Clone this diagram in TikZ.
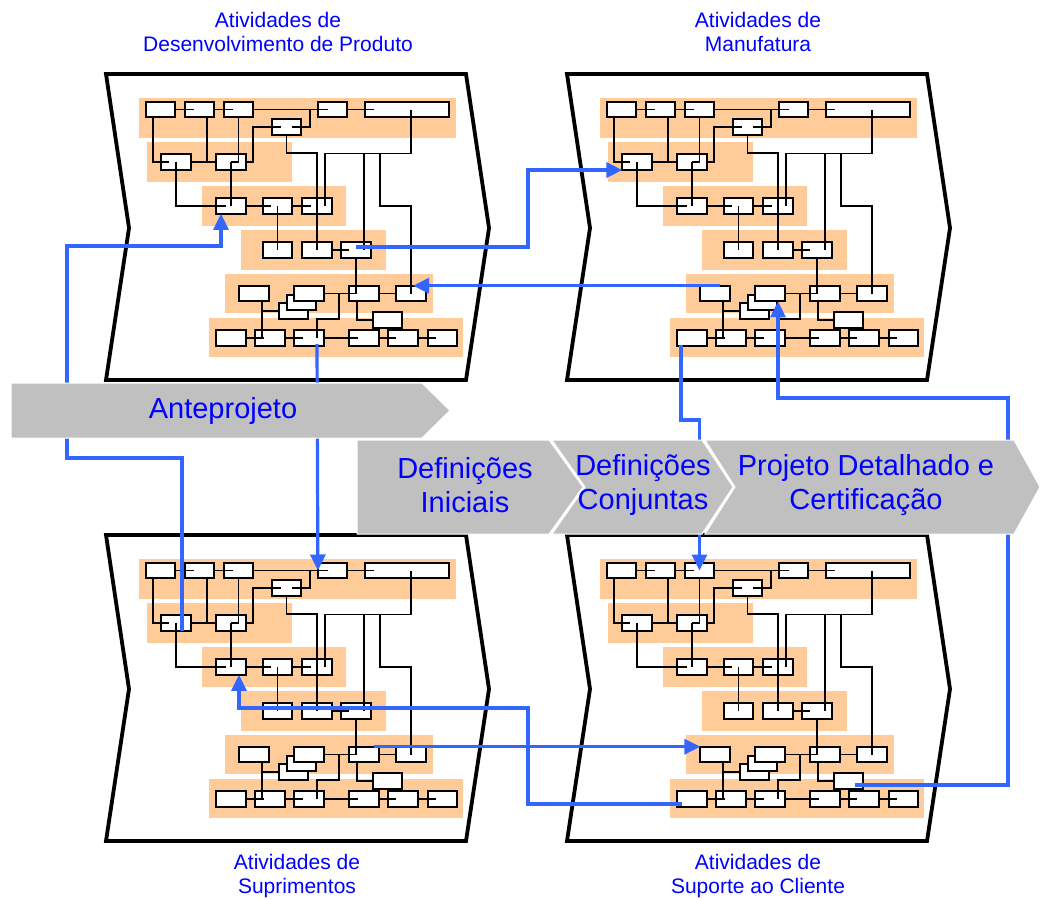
\documentclass[tikz,border=0pt]{standalone}
\usepackage{fontspec}
\setmainfont{Liberation Sans}
\usetikzlibrary{arrows.meta}
\definecolor{bandorange}{RGB}{255,204,153}
\definecolor{flowblue}{RGB}{51,102,255}
\definecolor{phasegray}{RGB}{192,192,192}
\definecolor{labelblue}{RGB}{0,0,255}

\tikzset{
  bx/.style={draw=black, fill=white, line width=1.9pt, minimum height=15.6pt,
             minimum width=29.2pt, inner sep=0pt, outer sep=0pt},
  wbx/.style={bx, minimum width=84.2pt},
  lnk/.style={draw=black, line width=1.8pt},
  stripe/.style={fill=bandorange, draw=none},
  chev/.style={draw=black, line width=3.8pt, line join=miter},
  flow/.style={draw=flowblue, line width=3.2pt, -{Triangle[length=16pt,width=15pt]}},
  phase/.style={fill=phasegray, draw=white, line width=1pt},
  phasetext/.style={text=labelblue, font=\fontsize{29}{34}\selectfont, align=center},
  head/.style={text=labelblue, font=\fontsize{21}{24}\selectfont, align=center},
}

% one activity network inside its chevron frame
\newcommand\actnet[3]{%
  \begin{scope}[shift={(#2,#3)}, name prefix=#1-]
    \draw[chev] (6,5) -- (366,5) -- (389,159) -- (366,311) -- (6,311) -- (29,159) -- cycle;
    % grouping stripes
    \fill[stripe] (39,29) rectangle (356,69);
    \fill[stripe] (47,73) rectangle (192,113);
    \fill[stripe] (102,117) rectangle (246,157);
    \fill[stripe] (141,161) rectangle (286,201);
    \fill[stripe] (125,205) rectangle (333,244);
    \fill[stripe] (109,249) rectangle (363,288);
    % tasks
    \node[bx] (B1) at (60.5,40.5) {};
    \node[bx] (B2) at (99.5,40.5) {};
    \node[bx] (B3) at (138.5,40.5) {};
    \node[bx] (B4) at (232.5,40.5) {};
    \node[wbx] (B5) at (307,40.5) {};
    \node[bx] (B6) at (186.5,58) {};
    \node[bx] (C1) at (76,93) {};
    \node[bx] (C2) at (131,93) {};
    \node[bx] (D1) at (131,137) {};
    \node[bx] (D2) at (177.5,137) {};
    \node[bx] (D3) at (217,137) {};
    \node[bx] (E1) at (177.5,181) {};
    \node[bx] (E2) at (217,181) {};
    \node[bx] (E3) at (256,181) {};
    \node[bx] (F1) at (154,224.5) {};
    \node[bx] (F2a) at (193.5,242) {};
    \node[bx] (F2b) at (201.5,233.5) {};
    \node[bx] (F2c) at (209,224.5) {};
    \node[bx] (F3) at (264,224.5) {};
    \node[bx] (F4) at (311,224.5) {};
    \node[bx] (H1) at (131,269) {};
    \node[bx] (H2) at (170,269) {};
    \node[bx] (H3) at (209,269) {};
    \node[bx] (H4) at (264,269) {};
    \node[bx] (H5) at (303,269) {};
    \node[bx] (H6) at (342.5,269) {};
    \node[bx] (G) at (287.5,251) {};
    \coordinate (J1) at (264,84.5);
    \coordinate (J2) at (280,84.5);
    % dependencies
    \draw[lnk] (B1.east) -- ([xshift=9pt]B2.west);
    \draw[lnk] (B2.east) -- ([xshift=9pt]B3.west);
    \draw[lnk] (B3.east) -- ([xshift=10pt]B4.west);
    \draw[lnk] (B4.east) -- ([xshift=9pt]B5.west);
    \draw[lnk] ([xshift=7pt]B1.south west) |- ([xshift=8pt]C1.west);
    \draw[lnk] ([xshift=7.5pt]B2.south) |- (C1.east);
    \draw[lnk] (C1.east) -- (C2.west);
    \draw[lnk] (B3.south) |- (C2.center);
    \draw[lnk] (C2.center) -- (D1.center);
    \draw[lnk] (C1.center) |- ([xshift=10pt]D1.west);
    \draw[lnk] (C2.east) -- ++(7,0) |- ([xshift=9pt]B6.west);
    \draw[lnk] ([xshift=-9pt]B6.east) -| ([xshift=-8pt]B4.west);
    \draw[lnk] (D1.east) -- ([xshift=8pt]D2.west);
    \draw[lnk] (D2.east) -- ([xshift=9pt]D3.west);
    \draw[lnk] (D2.center) -- (E1.center);
    \draw[lnk] (D3.center) -- (E2.center);
    \draw[lnk] (E2.east) -- ([xshift=8pt]E3.west);
    \draw[lnk] ([xshift=4pt]B5.center) -- ++(0,44) -| ([xshift=8pt]D3.center);
    \draw[lnk] (B6.south) -- ++(0,18.5) -| (D3.center);
    \draw[lnk] (J1) -- ([xshift=8pt]E3.center);
    \draw[lnk] (J2) -- ++(0,52.5) -| (F4.center);
    \draw[lnk] (E3.south) -- (E3.south |- F3.center);
    \draw[lnk] ([xshift=-7pt]F3.south) |- (G.west);
    \draw[lnk] (F2c.east) -- ([xshift=8pt]F3.west);
    \draw[lnk] (F3.east) -- (F4.west);
    \draw[lnk] ([xshift=15pt]F2c.east) -- ++(0,25.5) -| ([xshift=8pt]H3.center);
    \draw[lnk] ([xshift=8pt]F1.south) -- ([xshift=-8pt]H2.center);
    \draw[lnk] ([xshift=-16pt]F2a.west) -- (F2a.west);
    \draw[lnk] (H1.east) -- ([xshift=9pt]H2.west);
    \draw[lnk] (H2.east) -- ([xshift=9pt]H3.west);
    \draw[lnk] (H3.east) -- ([xshift=9pt]H4.west);
    \draw[lnk] (H4.east) -- ([xshift=8pt]H5.west);
    \draw[lnk] (H5.east) -- ([xshift=8pt]H6.west);
  \end{scope}}

\begin{document}
\begin{tikzpicture}[x=1pt, y=-1pt]
  \useasboundingbox (0,0) rectangle (1041,899);
  \fill[white] (0,0) rectangle (1041,899);

  \actnet{tl}{100}{69}
  \actnet{tr}{561}{69}
  \actnet{bl}{100}{530}
  \actnet{br}{561}{530}

  % information flows between the four areas
  \draw[flow] ([xshift=6pt]bl-C1.south) -- (182,458) -- (67,458) -- (67,246) -| ([xshift=-10pt]tl-D1.south);
  \draw[flow] ([yshift=3pt]tl-E3.center) -- (528,247) -- (528,170) -- ([yshift=-8pt]tr-C1.west);
  \draw[flow] ([xshift=5pt]tr-F1.north) -- ([xshift=2pt]tl-F4.north);
  \draw[flow] ([xshift=8pt,yshift=-6pt]tl-H3.center) -- (bl-B4.west);
  \draw[flow] ([xshift=-10pt,yshift=-5pt]br-H1.center) -- (528,804) -- (528,708) -| ([xshift=8pt]bl-D1.south);
  \draw[flow] ([xshift=10pt]bl-F3.north) -- (br-F1.north west);
  \draw[flow] ([xshift=6.5pt,yshift=-4pt]br-G.center) -- (1008,785) -- (1008,398) -| ([xshift=8pt]tr-F2c.south);
  \draw[flow] ([xshift=-11pt,yshift=-7pt]tr-H1.center) -- (681,420) -| (br-B3.center);

  % project phases
  \path[phase] (11,383) -- (422,383) -- (450,410.5) -- (422,438) -- (11,438) -- cycle;
  \path[phase] (357,440) -- (549,440) -- (583,487) -- (549,534) -- (357,534) -- cycle;
  \path[phase] (552,440) -- (702,440) -- (733,487) -- (702,534) -- (552,534) -- (585,487) -- cycle;
  \path[phase] (705,440) -- (1014,440) -- (1040,487) -- (1014,534) -- (705,534) -- (735,487) -- cycle;
  \node[phasetext] (ph0) at (223,410.5) {Anteprojeto};
  \node[phasetext] (ph1) at (465,485) {Definições\\Iniciais};
  \node[phasetext] (ph2) at (643,485) {Definições\\Conjuntas};
  \node[phasetext] (ph3) at (866,485) {Projeto Detalhado e\\Certificação};

  % area titles
  \node[head] (t-tl) at (278,32) {Atividades de\\Desenvolvimento de Produto};
  \node[head] (t-tr) at (758,32) {Atividades de\\Manufatura};
  \node[head] (t-bl) at (297,876) {Atividades de\\Suprimentos};
  \node[head] (t-br) at (758,876) {Atividades de\\Suporte ao Cliente};
\end{tikzpicture}
\end{document}
